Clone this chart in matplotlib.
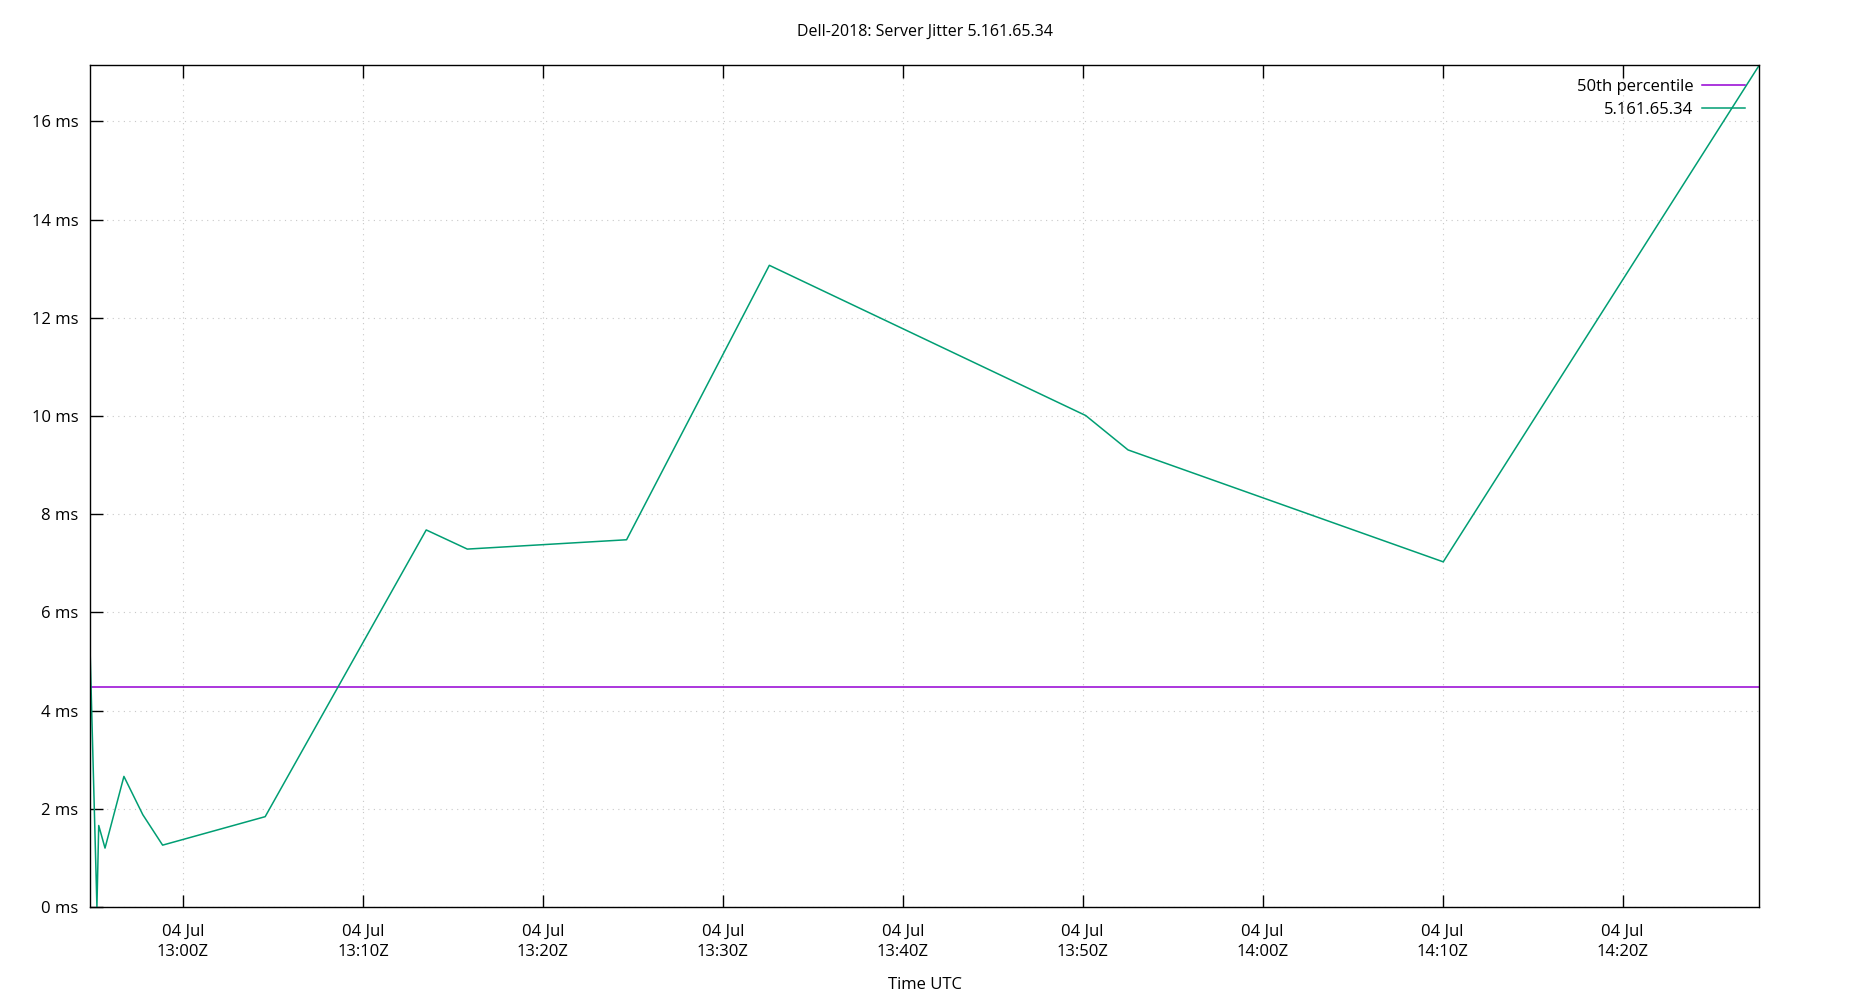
import matplotlib
matplotlib.use("Agg")
import matplotlib.pyplot as plt
import matplotlib.dates as mdates
import pandas as pd

plt.rcParams['font.family'] = ['Open Sans', 'DejaVu Sans']

# sample times (UTC) and jitter in ms
times = ["12:54:49", "12:55:13", "12:55:19", "12:55:40", "12:56:43", "12:57:46",
         "12:58:52", "13:04:34", "13:13:31", "13:15:48", "13:24:39", "13:32:35",
         "13:50:10", "13:52:31", "14:10:02", "14:27:36"]
jitter = [5.5, 0.0, 1.66, 1.2, 2.66, 1.88, 1.26, 1.84, 7.68, 7.29, 7.48, 13.07,
          10.01, 9.31, 7.03, 17.15]
median = 4.48

t = pd.to_datetime(["2018-07-04 " + s for s in times])

fig = plt.figure(figsize=(18.5, 10), dpi=100)
ax = fig.add_axes([0.0485, 0.093, 0.9025, 0.842])

ax.axhline(median, color='#9400d3', lw=1.1, label='50th percentile')
ax.plot(t, jitter, color='#009e73', lw=1.1, label='5.161.65.34')

ax.set_xlim(t[0], t[-1])
ax.set_ylim(0, max(jitter))

ax.xaxis.set_major_locator(mdates.MinuteLocator(byminute=range(0, 60, 10)))
ax.xaxis.set_major_formatter(mdates.DateFormatter('%d %b\n%H:%MZ'))
ax.yaxis.set_major_locator(plt.MultipleLocator(2))
ax.yaxis.set_major_formatter(plt.FuncFormatter(lambda v, p: f"{v:g} ms"))

ax.tick_params(axis='x', direction='in', length=9, width=1, top=True,
               labelsize=12, pad=12)
ax.tick_params(axis='y', direction='in', length=9, width=1, right=False,
               labelsize=12, pad=8)
for lbl in ax.get_xticklabels():
    lbl.set_linespacing(1.35)
ax.grid(True, color='#c8c8c8', linestyle=(0, (1, 4)), lw=0.8)
for s in ax.spines.values():
    s.set_linewidth(1)

ax.set_title('Dell-2018: Server Jitter 5.161.65.34', fontsize=11.5, pad=21)
ax.set_xlabel('Time UTC', fontsize=12, labelpad=12)

ax.legend(loc='upper right', frameon=False, markerfirst=False, fontsize=12,
          handlelength=2.6, handletextpad=0.5, borderaxespad=0.45,
          labelspacing=0.4)

fig.savefig('out.png')
